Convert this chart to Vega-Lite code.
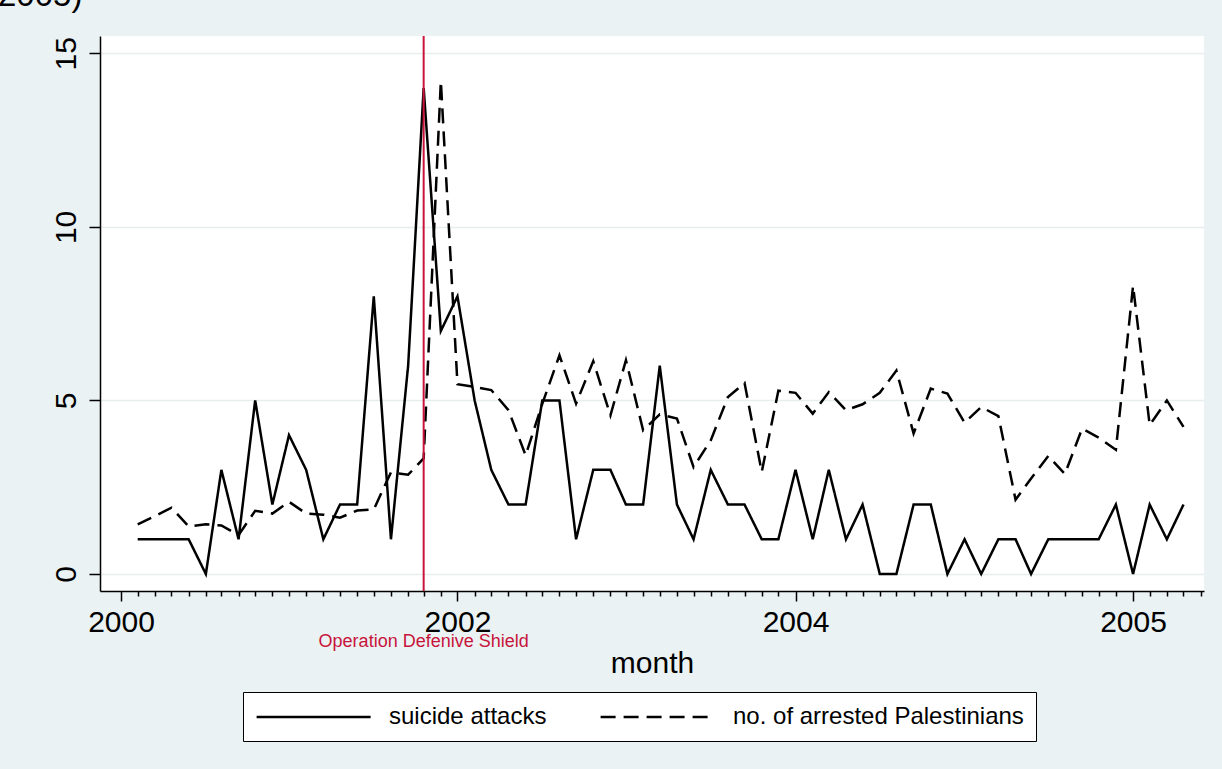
{
  "$schema": "https://vega.github.io/schema/vega-lite/v6.json",
  "autosize": {"type": "none"},
  "width": 1104,
  "height": 555,
  "padding": {"left": 100, "top": 36, "right": 18, "bottom": 178},
  "background": "#EAF2F3",
  "view": {"fill": "white", "stroke": null},
  "config": {"font": "Liberation Sans"},
  "title": {
    "text": "2005)",
    "anchor": "start",
    "frame": "group",
    "fontSize": 33,
    "fontWeight": "normal",
    "color": "black",
    "dx": -102,
    "offset": 22
  },
  "layer": [
    {
      "data": {
        "values": [
          {"month": "2000-10-01", "attacks": 1, "arrests": 1.43},
          {"month": "2000-11-01", "attacks": 1, "arrests": 1.67},
          {"month": "2000-12-01", "attacks": 1, "arrests": 1.91},
          {"month": "2001-01-01", "attacks": 1, "arrests": 1.37},
          {"month": "2001-02-01", "attacks": 0, "arrests": 1.43},
          {"month": "2001-03-01", "attacks": 3, "arrests": 1.40},
          {"month": "2001-04-01", "attacks": 1, "arrests": 1.12},
          {"month": "2001-05-01", "attacks": 5, "arrests": 1.82},
          {"month": "2001-06-01", "attacks": 2, "arrests": 1.74},
          {"month": "2001-07-01", "attacks": 4, "arrests": 2.08},
          {"month": "2001-08-01", "attacks": 3, "arrests": 1.74},
          {"month": "2001-09-01", "attacks": 1, "arrests": 1.71},
          {"month": "2001-10-01", "attacks": 2, "arrests": 1.62},
          {"month": "2001-11-01", "attacks": 2, "arrests": 1.83},
          {"month": "2001-12-01", "attacks": 8, "arrests": 1.86},
          {"month": "2002-01-01", "attacks": 1, "arrests": 2.93},
          {"month": "2002-02-01", "attacks": 6, "arrests": 2.86},
          {"month": "2002-03-01", "attacks": 14, "arrests": 3.33},
          {"month": "2002-04-01", "attacks": 7, "arrests": 14.2},
          {"month": "2002-05-01", "attacks": 8, "arrests": 5.47},
          {"month": "2002-06-01", "attacks": 5, "arrests": 5.39},
          {"month": "2002-07-01", "attacks": 3, "arrests": 5.30},
          {"month": "2002-08-01", "attacks": 2, "arrests": 4.72},
          {"month": "2002-09-01", "attacks": 2, "arrests": 3.42},
          {"month": "2002-10-01", "attacks": 5, "arrests": 4.90},
          {"month": "2002-11-01", "attacks": 5, "arrests": 6.30},
          {"month": "2002-12-01", "attacks": 1, "arrests": 4.91},
          {"month": "2003-01-01", "attacks": 3, "arrests": 6.13},
          {"month": "2003-02-01", "attacks": 3, "arrests": 4.57},
          {"month": "2003-03-01", "attacks": 2, "arrests": 6.16},
          {"month": "2003-04-01", "attacks": 2, "arrests": 4.14},
          {"month": "2003-05-01", "attacks": 6, "arrests": 4.60},
          {"month": "2003-06-01", "attacks": 2, "arrests": 4.48},
          {"month": "2003-07-01", "attacks": 1, "arrests": 3.08},
          {"month": "2003-08-01", "attacks": 3, "arrests": 3.85},
          {"month": "2003-09-01", "attacks": 2, "arrests": 5.10},
          {"month": "2003-10-01", "attacks": 2, "arrests": 5.50},
          {"month": "2003-11-01", "attacks": 1, "arrests": 2.94},
          {"month": "2003-12-01", "attacks": 1, "arrests": 5.28},
          {"month": "2004-01-01", "attacks": 3, "arrests": 5.22},
          {"month": "2004-02-01", "attacks": 1, "arrests": 4.62},
          {"month": "2004-03-01", "attacks": 3, "arrests": 5.24},
          {"month": "2004-04-01", "attacks": 1, "arrests": 4.72},
          {"month": "2004-05-01", "attacks": 2, "arrests": 4.89},
          {"month": "2004-06-01", "attacks": 0, "arrests": 5.22},
          {"month": "2004-07-01", "attacks": 0, "arrests": 5.86},
          {"month": "2004-08-01", "attacks": 2, "arrests": 4.05},
          {"month": "2004-09-01", "attacks": 2, "arrests": 5.34},
          {"month": "2004-10-01", "attacks": 0, "arrests": 5.20},
          {"month": "2004-11-01", "attacks": 1, "arrests": 4.36},
          {"month": "2004-12-01", "attacks": 0, "arrests": 4.81},
          {"month": "2005-01-01", "attacks": 1, "arrests": 4.55},
          {"month": "2005-02-01", "attacks": 1, "arrests": 2.14},
          {"month": "2005-03-01", "attacks": 0, "arrests": 2.75},
          {"month": "2005-04-01", "attacks": 1, "arrests": 3.40},
          {"month": "2005-05-01", "attacks": 1, "arrests": 2.88},
          {"month": "2005-06-01", "attacks": 1, "arrests": 4.19},
          {"month": "2005-07-01", "attacks": 1, "arrests": 3.93},
          {"month": "2005-08-01", "attacks": 2, "arrests": 3.58},
          {"month": "2005-09-01", "attacks": 0, "arrests": 8.30},
          {"month": "2005-10-01", "attacks": 2, "arrests": 4.29},
          {"month": "2005-11-01", "attacks": 1, "arrests": 5.00},
          {"month": "2005-12-01", "attacks": 2, "arrests": 4.24}
        ]
      },
      "transform": [{"fold": ["attacks", "arrests"], "as": ["series", "count"]}],
      "mark": {"type": "line", "color": "black", "strokeWidth": 2.5},
      "encoding": {
        "x": {
          "field": "month",
          "type": "temporal",
          "scale": {
            "type": "utc",
            "nice": false,
            "domain": [
              {"year": 2000, "month": 7, "date": 25, "utc": true},
              {"year": 2006, "month": 1, "date": 7, "utc": true}
            ]
          },
          "axis": {
            "title": "month",
            "titleFontSize": 30,
            "titleFontWeight": "normal",
            "titleColor": "black",
            "titlePadding": 11,
            "tickCount": {"interval": "month", "step": 1},
            "labelExpr": "((utcyear(datum.value) - 2000) * 12 + utcmonth(datum.value) - 8) % 20 === 0 ? utcFormat(datum.value, '%Y') : ''",
            "labelFontSize": 30,
            "labelColor": "black",
            "labelOverlap": false,
            "labelFlush": false,
            "labelPadding": 6,
            "tickSize": {
              "condition": {"test": "((utcyear(datum.value) - 2000) * 12 + utcmonth(datum.value) - 8) % 20 === 0", "value": 10},
              "value": 5
            },
            "tickOpacity": {
              "condition": {"test": "datum.value < utc(2000, 8, 1)", "value": 0},
              "value": 1
            },
            "tickColor": "black",
            "tickWidth": 1.5,
            "domainColor": "black",
            "domainWidth": 1.5,
            "grid": false
          }
        },
        "y": {
          "field": "count",
          "type": "quantitative",
          "scale": {"domain": [-0.49, 15.5], "nice": false, "zero": false},
          "axis": {
            "title": null,
            "values": [0, 5, 10, 15],
            "grid": true,
            "gridColor": "#E6EEF0",
            "gridWidth": 1.5,
            "labelAngle": -90,
            "labelAlign": "center",
            "labelBaseline": "bottom",
            "labelFontSize": 30,
            "labelColor": "black",
            "labelPadding": 8,
            "tickSize": 11,
            "tickColor": "black",
            "tickWidth": 1.5,
            "domainColor": "black",
            "domainWidth": 1.5
          }
        },
        "strokeDash": {
          "field": "series",
          "type": "nominal",
          "scale": {"domain": ["attacks", "arrests"], "range": [[1, 0], [15, 8]]},
          "legend": {
            "title": null,
            "orient": "none",
            "legendX": 143,
            "legendY": 656,
            "direction": "horizontal",
            "labelExpr": "datum.value === 'attacks' ? 'suicide attacks' : 'no. of arrested Palestinians'",
            "symbolType": "M-1,0H9",
            "symbolSize": 520,
            "symbolStrokeWidth": 2.5,
            "symbolStrokeColor": "black",
            "labelFontSize": 24,
            "labelColor": "black",
            "labelLimit": 0,
            "labelOffset": 108,
            "columnPadding": 48,
            "fillColor": "white",
            "strokeColor": "black",
            "padding": 12
          }
        }
      }
    },
    {
      "data": {"values": [{"month": "2002-03-01", "event": "Operation Defenive Shield"}]},
      "mark": {"type": "rule", "color": "#C8143C", "strokeWidth": 2},
      "encoding": {"x": {"field": "month", "type": "temporal"}}
    },
    {
      "data": {"values": [{"month": "2002-03-01", "event": "Operation Defenive Shield"}]},
      "mark": {"type": "text", "color": "#C8143C", "fontSize": 18, "baseline": "middle", "align": "center"},
      "encoding": {
        "x": {"field": "month", "type": "temporal"},
        "y": {"datum": -1.96, "type": "quantitative"},
        "text": {"field": "event"}
      }
    }
  ]
}
